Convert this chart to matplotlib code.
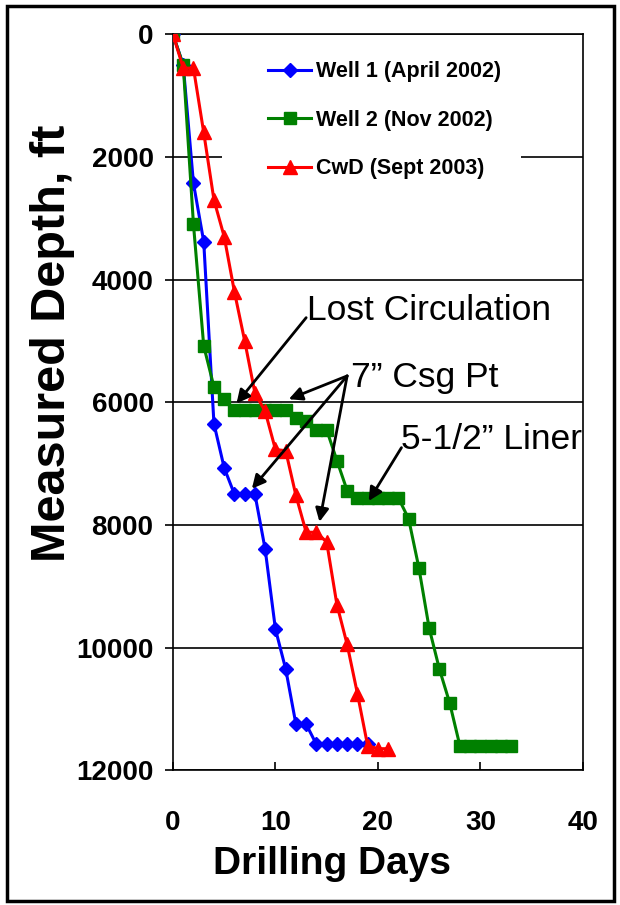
import matplotlib
matplotlib.use('Agg')
import matplotlib.pyplot as plt
from matplotlib.patches import Rectangle

plt.rcParams['font.family'] = ['Liberation Sans', 'DejaVu Sans']

# drilling curves: days vs measured depth (ft)
well1_days = [0, 1, 2, 3, 4, 5, 6, 7, 8, 9, 10, 11, 12, 13, 14, 15, 16, 17, 18, 19]
well1_depth = [0, 500, 2430, 3380, 6350, 7070, 7500, 7500, 7500, 8400, 9700, 10350,
               11250, 11250, 11580, 11580, 11580, 11580, 11580, 11580]

well2_days = list(range(0, 34))
well2_depth = [0, 500, 3100, 5080, 5750, 5950, 6120, 6120, 6120, 6120, 6120, 6120,
               6250, 6300, 6450, 6450, 6950, 7440, 7560, 7560, 7560, 7560, 7560, 7900,
               8700, 9680, 10350, 10900, 11600, 11600, 11600, 11600, 11600, 11600]

cwd_days = [0, 1, 2, 3, 4, 5, 6, 7, 8, 9, 10, 11, 12, 13, 14, 15, 16, 17, 18, 19, 20, 21]
cwd_depth = [0, 550, 550, 1600, 2700, 3300, 4200, 5000, 5850, 6150, 6770, 6790, 7520,
             8120, 8120, 8280, 9300, 9950, 10750, 11600, 11650, 11650]

series_labels = ['Well 1 (April 2002)', 'Well 2 (Nov 2002)', 'CwD (Sept 2003)']

x_ticks = [0, 10, 20, 30, 40]
y_ticks = [0, 2000, 4000, 6000, 8000, 10000, 12000]

# callouts: (text, text anchor) and arrows (from, to) in data units
notes = [('Lost Circulation', (13.1, 4500)),
         ('7\u201d Csg Pt', (17.4, 5600)),
         ('5-1/2\u201d Liner', (22.3, 6600))]
arrows = [((13.0, 4620), (6.2, 6020)),
          ((17.0, 5570), (11.3, 5950)),
          ((17.0, 5570), (7.7, 7410)),
          ((17.0, 5570), (14.3, 7950)),
          ((22.3, 6740), (19.1, 7610))]

fig = plt.figure(figsize=(6.2, 9.05), dpi=100)
ax = fig.add_axes([0.279, 0.149, 0.661, 0.813])

ax.plot(well1_days, well1_depth, color='#0000ff', lw=2.2, marker='D', ms=7,
        label=series_labels[0], zorder=3)
ax.plot(well2_days, well2_depth, color='#008000', lw=2.2, marker='s', ms=9,
        label=series_labels[1], zorder=4)
ax.plot(cwd_days, cwd_depth, color='#ff0000', lw=2.2, marker='^', ms=10,
        label=series_labels[2], zorder=5)

ax.set_xlim(0, 40)
ax.set_ylim(12000, 0)
ax.set_xticks(x_ticks)
ax.set_yticks(y_ticks)
ax.yaxis.grid(True, color='black', lw=1.2)
ax.set_axisbelow(True)

ax.tick_params(axis='x', direction='in', length=6, width=1.2, pad=29, labelsize=20)
ax.tick_params(axis='y', direction='out', length=6, width=1.2, pad=8, labelsize=20)
for lab in ax.get_xticklabels() + ax.get_yticklabels():
    lab.set_fontweight('bold')
for sp in ax.spines.values():
    sp.set_linewidth(1.2)

ax.set_xlabel('Drilling Days', fontsize=28, fontweight='bold')
ax.xaxis.set_label_coords(0.388, -0.103)
ax.set_ylabel('Measured Depth, ft', fontsize=35, fontweight='bold')
ax.yaxis.set_label_coords(-0.24, 0.58)

# white box behind the legend hides the grid there
ax.add_patch(Rectangle((0.12, 0.79), 0.73, 0.2, transform=ax.transAxes,
                       facecolor='white', edgecolor='none', zorder=1.5))
leg = ax.legend(loc='upper left', bbox_to_anchor=(0.185, 0.99), frameon=False,
                prop={'weight': 'bold', 'size': 15.5}, labelspacing=1.28,
                handlelength=2.0, handletextpad=0.2)

for txt, pos in notes:
    ax.text(pos[0], pos[1], txt, fontsize=25.5, ha='left', va='center', zorder=6)
for start, end in arrows:
    ax.annotate('', xy=end, xytext=start, zorder=6,
                arrowprops=dict(arrowstyle='-|>', color='black', lw=2,
                                mutation_scale=20, shrinkA=0, shrinkB=0))

fig.patches.append(Rectangle((0.012, 0.004), 0.978, 0.989, transform=fig.transFigure,
                             fill=False, edgecolor='black', lw=2.5))

fig.savefig('out.png', dpi=100)
